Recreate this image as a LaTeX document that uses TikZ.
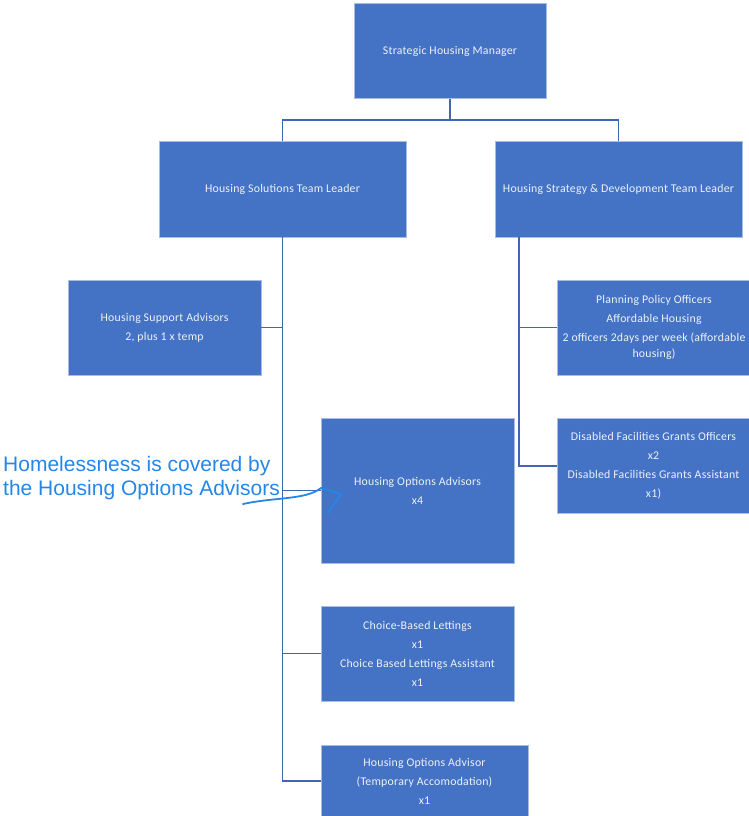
\documentclass[tikz,border=0pt]{standalone}
\usepackage{fontspec}
\setmainfont{Carlito}[LetterSpace=2]
\newfontfamily\annotfont{Liberation Sans}
\definecolor{boxblue}{HTML}{4472C4}
\definecolor{boxedge}{HTML}{A9BDE3}
\definecolor{boxtext}{HTML}{EEF2FA}
\definecolor{linkblue}{HTML}{3F66B0}
\definecolor{inkblue}{RGB}{36,134,230}
\tikzset{
  orgbox/.style={rectangle, fill=boxblue, draw=boxedge, line width=0.8pt,
    text=boxtext, font=\fontsize{11.8}{19}\selectfont, align=center, inner sep=0pt},
  link/.style={draw=linkblue, line width=1.6pt},
  ink/.style={draw=inkblue, line width=1.8pt, line cap=round, line join=round}
}
\begin{document}
\begin{tikzpicture}[x=1pt,y=-1pt]
\useasboundingbox (0,0) rectangle (749,816);
% boxes
\node[orgbox, minimum width=192, minimum height=95] (shm) at (450,51) {Strategic Housing Manager};
\node[orgbox, minimum width=247, minimum height=96] (hstl) at (282.5,189) {Housing Solutions Team Leader};
\node[orgbox, minimum width=247, minimum height=96] (hsdtl) at (618.5,189) {Housing Strategy \& Development Team Leader};
\node[orgbox, minimum width=193, minimum height=95] (hsa) at (164.5,327.5) {Housing Support Advisors\\2, plus 1 x temp};
\node[orgbox, minimum width=194, minimum height=95] (ppo) at (654,327.5) {Planning Policy Officers\\Affordable Housing\\[0pt]2 officers 2days per week (affordable\\[-3pt]housing)};
\node[orgbox, minimum width=193, minimum height=145] (hoa) at (417.5,490.5) {Housing Options Advisors\\x4};
\node[orgbox, minimum width=193, minimum height=95] (dfg) at (653.5,466) {Disabled Facilities Grants Officers\\x2\\Disabled Facilities Grants Assistant\\x1)};
\node[orgbox, minimum width=193, minimum height=95] (cbl) at (417.5,653.5) {Choice-Based Lettings\\x1\\Choice Based Lettings Assistant\\x1};
\node[orgbox, minimum width=207, minimum height=72] (hoat) at (424.5,781) {Housing Options Advisor\\(Temporary Accomodation)\\x1};
% connectors
\coordinate (j) at (450,120);
\draw[link] (shm.south) -- (j) -| (hstl.north);
\draw[link] (j) -| (hsdtl.north);
\draw[link] (hstl.south) |- (hoat.west);
\draw[link] (hsa.east) -- (hstl.south |- hsa.east);
\draw[link] (hstl.south |- hoa.west) -- (hoa.west);
\draw[link] (hstl.south |- cbl.west) -- (cbl.west);
\coordinate (rs) at (519,237);
\draw[link] (rs) |- (dfg.west);
\draw[link] (rs |- ppo.west) -- (ppo.west);
% annotation
\node[anchor=north west, inner sep=0pt, align=left, text=inkblue,
  font=\annotfont\fontsize{21}{24}\selectfont] (note) at (3,456.5)
  {Homelessness is covered by\\the Housing Options Advisors};
\coordinate (inkstart) at (243,504);
\coordinate (inkbend) at (321,488);
\coordinate (inktip) at (341,494);
\coordinate (inkend) at (328,513);
\draw[ink] (inkstart) .. controls (275,497) and (306,500) .. (inkbend) -- (inktip) -- (inkend);
\end{tikzpicture}
\end{document}
